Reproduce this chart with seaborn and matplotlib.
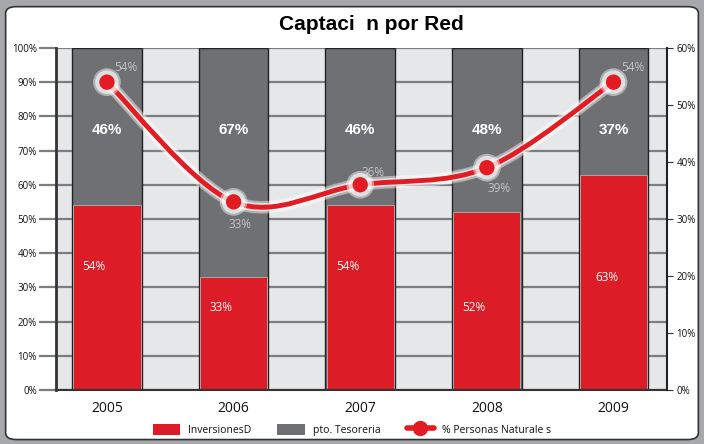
import numpy as np
import pandas as pd
import seaborn as sns
import matplotlib.pyplot as plt
from matplotlib.patches import FancyBboxPatch, Patch, PathPatch
from matplotlib.path import Path
from matplotlib.lines import Line2D
import matplotlib.patheffects as pe

sns.set_style("white")
plt.rcParams['font.family'] = ['Open Sans', 'DejaVu Sans']
plt.rcParams['text.color'] = '#111111'
plt.rcParams['xtick.color'] = '#111111'
plt.rcParams['ytick.color'] = '#111111'

# Data
years = ["2005", "2006", "2007", "2008", "2009"]
inversiones = [54, 33, 54, 52, 63]
tesoreria = [46, 67, 46, 48, 37]
personas = [54, 33, 36, 39, 54]

red = "#dc1c26"
gray = "#6f7073"
line_red = "#e31b23"

df = pd.DataFrame({"year": years, "inv": inversiones, "tes": tesoreria})
df["total"] = df["inv"] + df["tes"]

fig = plt.figure(figsize=(7.04, 4.44), dpi=100)
fig.patch.set_facecolor("#a6a8ab")
frame = FancyBboxPatch((0.008, 0.01), 0.984, 0.975, boxstyle="round,pad=0,rounding_size=0.015",
                       transform=fig.transFigure, facecolor="white", edgecolor="#333333",
                       lw=1.2, zorder=-10)
fig.patches.append(frame)

ax = fig.add_axes([0.08, 0.1216, 0.867, 0.7704])
ax.set_facecolor("#e6e7e8")

# stacked bars: gray = full stack, red on top of it at the bottom
sns.barplot(data=df, x="year", y="total", color=gray, width=0.55, ax=ax,
            edgecolor="#222222", linewidth=1, saturation=1)
sns.barplot(data=df, x="year", y="inv", color=red, width=0.53, ax=ax,
            edgecolor="#b0b0b0", linewidth=0.6, saturation=1)
ax.set_xlim(-0.4, 4.42)
ax.set_ylim(0, 100)
ax.set_yticks(range(0, 101, 10))
ax.set_yticklabels([f"{v}%" for v in range(0, 101, 10)], fontsize=7)
ax.set_axisbelow(True)
ax.yaxis.grid(True, color="#7d7e80", lw=1.6)
ax.tick_params(axis="y", length=12, width=1.6, color="#7d7e80", pad=2)
ax.tick_params(axis="x", length=0, labelsize=10, pad=8)
ax.set_xlabel("")
ax.set_ylabel("")
for s in ["top", "right"]:
    ax.spines[s].set_visible(False)
ax.spines["left"].set_color("#333333")
ax.spines["left"].set_linewidth(2)
ax.spines["bottom"].set_color("#333333")
ax.spines["bottom"].set_linewidth(1.5)

# bar labels
red_label_y = [36, 24, 36, 24, 33]
for i in range(len(years)):
    ax.text(i, 76, f"{tesoreria[i]}%", ha="center", va="center", color="white",
            fontsize=11, fontweight="bold", family=["Liberation Sans"])
    ax.text(i - 0.1 if i != 4 else i - 0.05, red_label_y[i], f"{inversiones[i]}%",
            ha="center", va="center", color="white", fontsize=8.5)

# line on secondary axis
ax2 = ax.twinx()
ax2.set_ylim(0, 60)
ax2.set_yticks(range(0, 61, 10))
ax2.set_yticklabels([f"{v}%" for v in range(0, 61, 10)], fontsize=7)
ax2.tick_params(axis="y", length=4, color="#333333", pad=3)
for s in ["top", "left", "bottom"]:
    ax2.spines[s].set_visible(False)
ax2.spines["right"].set_color("#222222")
ax2.spines["right"].set_linewidth(1.5)
ax2.set_xlim(-0.4, 4.42)

glow = [pe.Stroke(linewidth=9, foreground="white", alpha=0.45),
        pe.Stroke(linewidth=6, foreground="white", alpha=0.6), pe.Normal()]

# smooth curve through the points (Catmull-Rom as cubic Bezier)
xs = np.arange(len(years), dtype=float)
pts = np.column_stack([xs, personas]).astype(float)
ext = np.vstack([pts[0], pts, pts[-1]])
verts = [tuple(pts[0])]
codes = [Path.MOVETO]
for k in range(len(pts) - 1):
    p0, p1, p2, p3 = ext[k], ext[k + 1], ext[k + 2], ext[k + 3]
    verts += [tuple(p1 + (p2 - p0) / 6), tuple(p2 - (p3 - p1) / 6), tuple(p2)]
    codes += [Path.CURVE4] * 3
ax2.add_patch(PathPatch(Path(verts, codes), facecolor="none", edgecolor=line_red,
                        lw=3.5, capstyle="round", path_effects=glow, zorder=3))
sns.lineplot(x=xs, y=personas, ax=ax2, color=line_red, linestyle="none",
             marker="o", markersize=11, markeredgewidth=0, zorder=4,
             path_effects=glow)

offsets = [(0.15, 2.5), (0.05, -4), (0.1, 2.2), (0.1, -3.6), (0.15, 2.5)]
for i, v in enumerate(personas):
    dx, dy = offsets[i]
    ax2.text(i + dx, v + dy, f"{v}%", ha="center", va="center", color="#c4c4c4", fontsize=8.5)

fig.text(0.528, 0.945, "Captaci  n por Red", ha="center", va="center",
         fontsize=15, fontweight="bold", family=["Liberation Sans"], color="black")

handles = [Patch(facecolor=red, edgecolor="none"),
           Patch(facecolor=gray, edgecolor="none"),
           Line2D([0], [0], color=line_red, lw=4, marker="o", markersize=10)]
labels = ["InversionesD", "pto. Tesoreria", "% Personas Naturale s"]
fig.legend(handles, labels, loc="center", bbox_to_anchor=(0.5, 0.032), ncol=3,
           frameon=False, fontsize=7.5, handlelength=2.6, handleheight=1.2,
           columnspacing=2.5)

fig.savefig("out.png", dpi=100, facecolor=fig.get_facecolor())
